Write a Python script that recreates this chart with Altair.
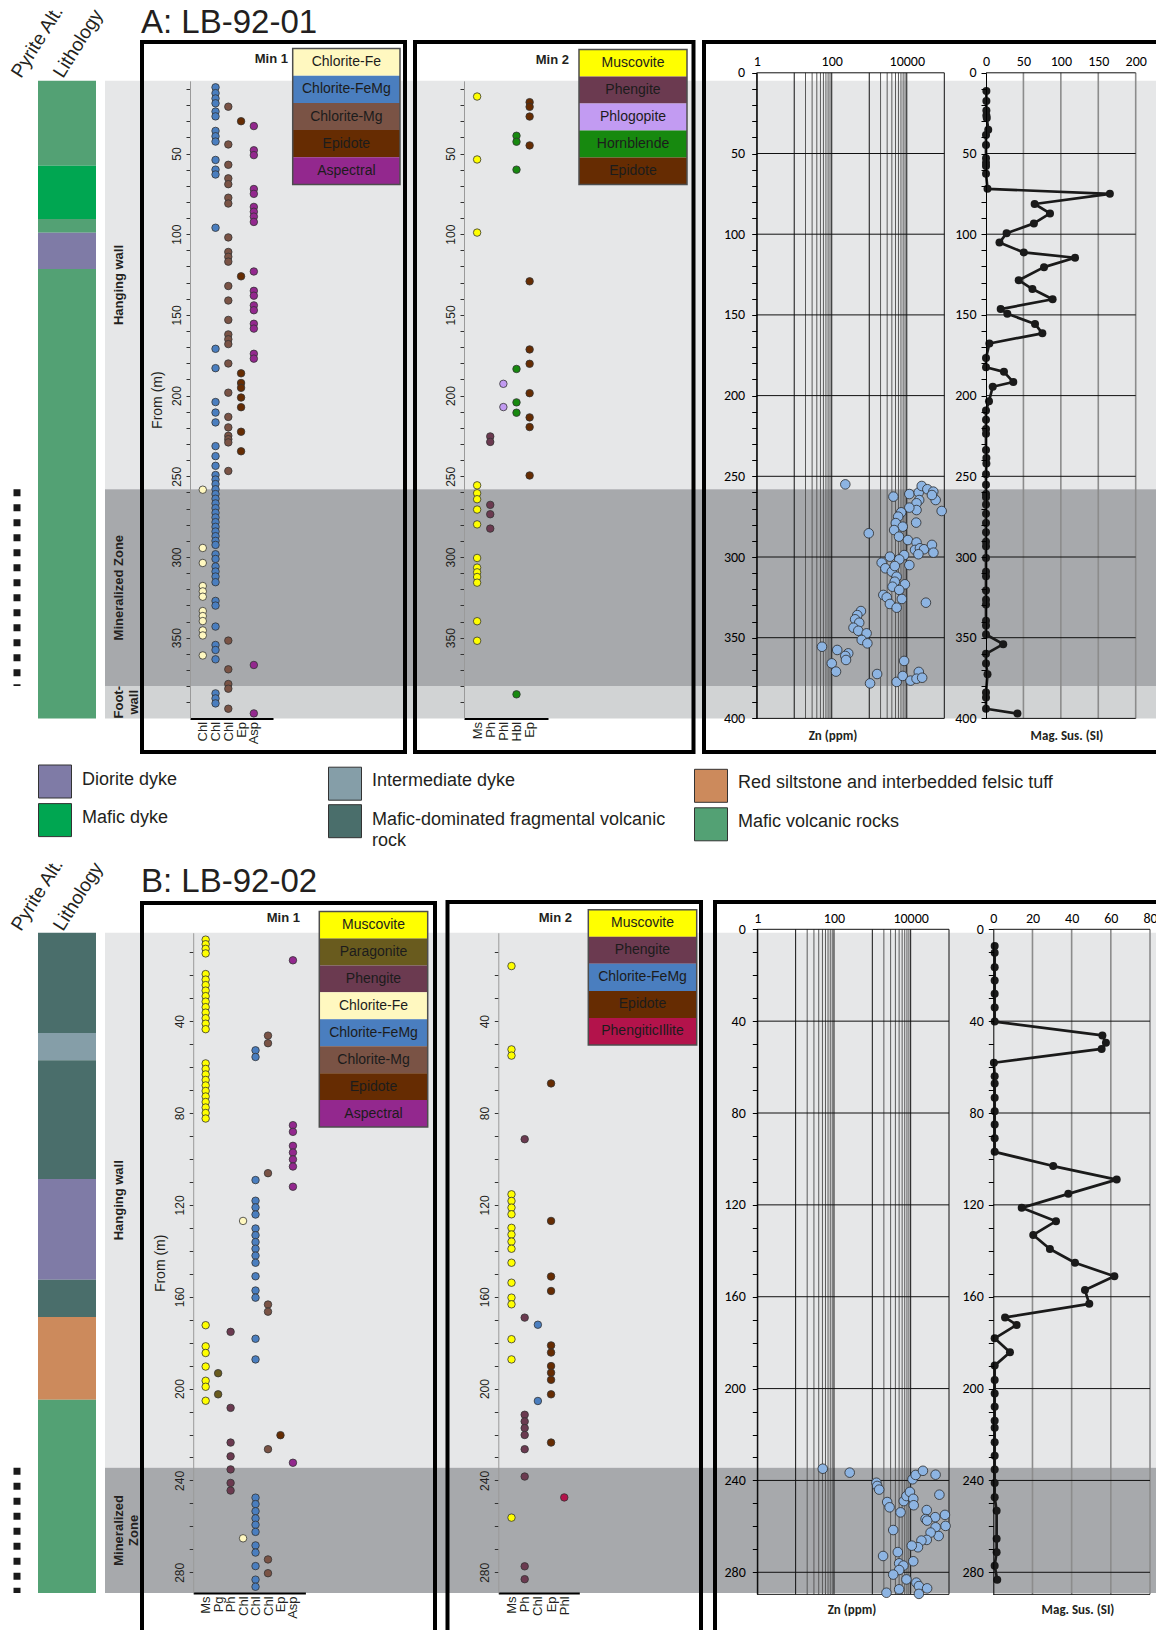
import altair as alt
import pandas as pd

W, H = 1156, 1630
SANS = "Liberation Sans, Arial, Helvetica, sans-serif"
XLS = "Carlito, Lato, Calibri, sans-serif"
INK = "#231f20"

# ------------------------------------------------------------------ colour keys
MINERALS = ["Muscovite", "Paragonite", "Phengite", "Phlogopite", "Hornblende",
            "Chlorite-Fe", "Chlorite-FeMg", "Chlorite-Mg", "Epidote",
            "Aspectral", "PhengiticIllite"]
MINERAL_COLORS = ["#ffff00", "#695b1e", "#6b3a50", "#c29bf2", "#17890f",
                  "#fff8c0", "#4a7ebf", "#7a5345", "#662c02",
                  "#93288e", "#b3134b"]

LITH_UNITS = ["Diorite dyke", "Mafic dyke", "Intermediate dyke",
              "Mafic-dominated fragmental volcanic rock",
              "Red siltstone and interbedded felsic tuff", "Mafic volcanic rocks"]
LITH_COLORS = ["#7f7ba6", "#00a651", "#859ea8", "#4a6e6b", "#cc8a5c", "#53a174"]

ZONE_NAMES = ["Hanging wall", "Mineralized Zone", "Foot-wall"]
ZONE_COLORS = ["#e6e7e8", "#a7a9ac", "#d1d3d4"]

# Excel-style log grid for Zn
ZN_MAJOR = [1, 10, 100, 1000, 10000, 100000]
ZN_MINOR = [20, 30, 40, 50, 60, 70, 80, 90,
            2000, 3000, 4000, 5000, 6000, 7000, 8000, 9000]
ZN_LABELS = [1, 100, 10000]

# ================================================================== hole A: LB-92-01
A_LITH_UNIT = ["Mafic volcanic rocks", "Mafic dyke", "Mafic volcanic rocks",
               "Diorite dyke", "Mafic volcanic rocks"]
A_LITH_TOP = [5, 57.6, 90.6, 99.1, 121.6]
A_LITH_BASE = [57.6, 90.6, 99.1, 121.6, 400]

A_ZONE = ["Hanging wall", "Mineralized Zone", "Foot-wall"]
A_ZONE_LABEL = ["Hanging wall", "Mineralized Zone", "Foot-\nwall"]
A_ZONE_TOP = [5, 258, 380]
A_ZONE_BASE = [258, 380, 400]

A_PYRITE_TOP = [258]
A_PYRITE_BASE = [380]

A_MIN1_COLS = ["Chlorite-Fe", "Chlorite-FeMg", "Chlorite-Mg", "Epidote", "Aspectral"]
A_MIN1_ABBR = ["Chl", "Chl", "Chl", "Ep", "Asp"]
A_MIN1 = {
    "Chlorite-Fe": [258.3, 294.4, 303.7, 318, 321.3, 324.6, 333.5, 336.6, 339.7,
                    345.5, 348.6, 361],
    "Chlorite-FeMg": [9, 12.6, 15.9, 18.9, 24, 27, 36, 39.3, 42.6, 54, 60, 63, 96,
                      171, 183, 204, 210.5, 216.6, 231.3, 237.5, 243.5, 249.2, 252,
                      254.8, 258, 261, 263.9, 266.8, 269.7, 272.6, 275.5, 278.4,
                      281.3, 284.2, 287.1, 290, 292.5, 298.3, 301.2, 305.9, 309,
                      312.1, 315.6, 327.2, 330.1, 343.1, 354.5, 357.6, 363.4,
                      384.5, 387.6, 390.7],
    "Chlorite-Mg": [21, 44.4, 57, 65.4, 69, 77.4, 81, 102, 111, 114, 117, 132.1,
                    141.1, 153.1, 162.1, 165.1, 168.1, 180.1, 198.2, 213.2, 219.7,
                    224.9, 227, 229, 246.7, 351.8, 369.6, 378.7, 381.6, 394],
    "Epidote": [30, 126.1, 186.2, 192.2, 195.2, 201.2, 207.2, 222.4, 234.5],
    "Aspectral": [33, 48, 51, 72, 75, 83.1, 86.1, 89.1, 92.4, 123.1, 135.1, 138.1,
                  144.1, 147.1, 155.5, 158.5, 174.1, 177.1, 366.9, 396.9],
}

A_MIN2_COLS = ["Muscovite", "Phengite", "Phlogopite", "Hornblende", "Epidote"]
A_MIN2_ABBR = ["Ms", "Ph", "Phl", "Hbl", "Ep"]
A_MIN2 = {
    "Muscovite": [14.7, 53.7, 99, 255.6, 260.5, 264.2, 270.6, 279.8, 300.6, 306.6,
                  309.5, 312.4, 315.9, 339.8, 351.9],
    "Phengite": [225.3, 228.7, 267.7, 273.5, 282.4],
    "Phlogopite": [192.7, 207.1],
    "Hornblende": [39, 42.7, 60, 183.5, 204.2, 210.6, 385.1],
    "Epidote": [18.2, 21.1, 27.1, 45, 129.2, 171.4, 180.3, 198.5, 213.5, 219.5, 249.5],
}

A_ZN_DEPTH = [255.0, 262.6, 261.0, 260.0, 256.0, 258.0, 259.5, 264.7, 271.5, 261.6,
              264.7, 266.7, 270.9, 269.4, 272.3, 275.0, 279.0, 281.2, 283.3, 287.4,
              278.7, 285.3, 289.5, 291.0, 295.6, 294.6, 295.2, 298.3, 292.5, 297.3,
              298.8, 301.5, 299.8, 303.5, 307.0, 309.1, 305.6, 305.0, 312.2, 315.3,
              316.9, 318.4, 320.4, 323.5, 325.0, 329.1, 331.4, 326.0, 328.3, 333.5,
              336.0, 338.6, 340.7, 343.8, 345.7, 347.3, 351.4, 353.5, 355.6, 357.6,
              359.7, 361.3, 363.8, 365.9, 371.0, 364.4, 372.5, 378.3, 377.4, 373.7,
              376.6, 371.2, 375.4, 374.8]
A_ZN_PPM = [230, 4400, 11700, 20800, 25000, 35300, 50900, 58900, 85100, 46800,
            21400, 18200, 18200, 11700, 7100, 5900, 5100, 7800, 4600, 6200,
            17800, 970, 10700, 18200, 16600, 22400, 28800, 20400, 46800, 51300,
            8500, 6300, 3550, 2140, 2690, 4000, 4790, 11700, 5370, 4790,
            8900, 4170, 6300, 2370, 2920, 3550, 5370, 7400, 32400, 600,
            480, 420, 540, 380, 510, 850, 630, 890, 55, 140,
            275, 230, 240, 100, 130, 8500, 1620, 1050, 5370, 7800,
            12600, 20900, 18200, 25700]

A_MAG_DEPTH = [11.2, 17.5, 23.3, 26.4, 28, 35.3, 38.5, 44.8, 52.9, 55.8, 57.7, 62.5,
               71.9, 75, 81.3, 87.1, 93.3, 99.4, 105.2, 111.3, 114.6, 120.4, 128.5,
               134, 140.3, 146.4, 149.3, 155.6, 161.4, 167.7, 176.7, 182.4, 185.3,
               191.6, 194.5, 203.5, 209.2, 215, 220.7, 223.6, 233.7, 238.6, 242,
               248.7, 255.3, 261, 263, 267.4, 273.2, 279, 284.7, 290.5, 293.4, 300.6,
               309.2, 312, 320.7, 326.5, 329.4, 339.5, 342.4, 348, 354, 360, 366,
               372.6, 384, 387, 394, 397]
A_MAG_SI = [0.5, 0.5, 0.5, 0.5, 1, 3, 0, 0, 0, 0, 0, 0,
            2, 165.5, 65, 85.5, 64, 27.5, 18, 50.5, 119, 77.5, 43.7,
            62, 89, 19.6, 28.5, 65.5, 75.3, 4.5, 0, 0, 24,
            36.5, 9, 4, 0, 0, 0, 0, 0, 0.5, 0.5,
            0, 0, 0, 0, 0, 0, 0, 0, 0, 0, 0,
            0, 0, 0, 0, 0, 0, 0, 0, 23, 0, 0,
            2, 0, 0, 0, 42]

# ================================================================== hole B: LB-92-02
B_LITH_UNIT = ["Mafic-dominated fragmental volcanic rock", "Intermediate dyke",
               "Mafic-dominated fragmental volcanic rock", "Diorite dyke",
               "Mafic-dominated fragmental volcanic rock",
               "Red siltstone and interbedded felsic tuff", "Mafic volcanic rocks"]
B_LITH_TOP = [1.5, 45.2, 57.0, 108.7, 152.6, 168.8, 204.9]
B_LITH_BASE = [45.2, 57.0, 108.7, 152.6, 168.8, 204.9, 289]

B_ZONE = ["Hanging wall", "Mineralized Zone"]
B_ZONE_LABEL = ["Hanging wall", "Mineralized\nZone"]
B_ZONE_TOP = [1.5, 234.5]
B_ZONE_BASE = [234.5, 289]

B_PYRITE_TOP = [234.5]
B_PYRITE_BASE = [289]

B_MIN1_COLS = ["Muscovite", "Paragonite", "Phengite", "Chlorite-Fe", "Chlorite-FeMg",
               "Chlorite-Mg", "Epidote", "Aspectral"]
B_MIN1_ABBR = ["Ms", "Pg", "Ph", "Chl", "Chl", "Chl", "Ep", "Asp"]
B_MIN1 = {
    "Muscovite": [4.5, 6.5, 8.5, 10.5, 19.5, 21.9, 24.3, 26.7, 29.1, 31.5, 33.9, 36.3,
                  38.7, 41.1, 43.5, 58.4, 60.8, 63.2, 65.6, 68.0, 70.4, 72.8, 75.2,
                  77.6, 80.0, 82.4, 172.4, 181.6, 184.5, 190.4, 196.6, 199.2, 205.3],
    "Paragonite": [193.3, 202.5],
    "Phengite": [175.3, 208.4, 223.5, 229.5, 235.2, 241.1, 244.4],
    "Chlorite-Fe": [127, 265.2],
    "Chlorite-FeMg": [52.7, 55.6, 109.2, 118.2, 121.1, 124.2, 130.3, 133.2, 136.2,
                      139.1, 142.1, 145.2, 151.1, 157.3, 160.4, 178.3, 187.3, 247.5,
                      250.3, 253.4, 256.5, 259.3, 262.4, 268.3, 271.4, 277.3, 283.2,
                      286.3],
    "Chlorite-Mg": [46.3, 49.6, 106.2, 163.4, 166.5, 226.4, 274.4, 280.4],
    "Epidote": [220.3],
    "Aspectral": [13.5, 85.3, 88.2, 94.3, 97.2, 100.2, 103.3, 112.1, 232.3],
}

B_MIN2_COLS = ["Muscovite", "Phengite", "Chlorite-FeMg", "Epidote", "PhengiticIllite"]
B_MIN2_ABBR = ["Ms", "Ph", "Chl", "Ep", "Phl"]
B_MIN2 = {
    "Muscovite": [16, 52.3, 55, 115.4, 118.3, 121.2, 124.1, 130, 132.9, 136, 139.1,
                  145.2, 153.9, 160.4, 163.3, 178.5, 187.3, 256.2],
    "Phengite": [91.4, 169.1, 211.4, 214.3, 217.2, 220.2, 226.4, 238.3, 277.4, 283],
    "Chlorite-FeMg": [172.2, 205.4],
    "Epidote": [67.1, 127, 151.2, 157.5, 181.2, 184.3, 190.2, 193.1, 196.2, 202.5,
                223.5],
    "PhengiticIllite": [247.4],
}

B_ZN_DEPTH = [234.9, 236.6, 241.0, 242.4, 244.0, 249.4, 251.7, 253.9, 249.0, 246.8,
              245.0, 248.0, 250.8, 239.5, 237.6, 235.8, 237.5, 246.2, 252.9, 256.8,
              256.0, 255.0, 259.8, 260.4, 257.5, 264.2, 262.7, 265.9, 266.2, 269.1,
              268.4, 261.6, 272.9, 271.2, 275.2, 276.1, 277.1, 279.0, 281.0, 283.1,
              284.5, 286.0, 287.0, 287.4, 288.9, 289.4]
B_ZN_PPM = [51, 257, 1280, 1340, 1510, 2440, 2820, 5440, 6600, 7760,
            9550, 11700, 12000, 11200, 13500, 20900, 44700, 56200, 26300, 24500,
            43700, 78500, 81300, 44700, 26900, 53700, 33100, 26300, 19100, 15500,
            10700, 3510, 1910, 4620, 11700, 5010, 6460, 5010, 3510, 7760,
            14100, 16400, 26900, 5010, 2340, 16400]

B_MAG_DEPTH = [7.3, 10.2, 16.5, 22.3, 28.1, 34, 40.2, 46.2, 49.4, 52.1, 58.1, 64,
               67.1, 73.3, 79.2, 85, 91, 96.9, 103.1, 109, 115.2, 121.3, 127.1,
               133.1, 139.2, 145.2, 151.1, 157.1, 163.1, 169, 172.3, 178.1, 184.2,
               190, 196.3, 202.1, 207.9, 214, 217.1, 223.4, 229.2, 235.2, 241.1,
               247.3, 253.2, 265.4, 271.3, 277.1, 283.2]
B_MAG_SI = [0.7, 0.7, 0.7, 0.7, 0.7, 0.7, 0.7, 55.7, 57.5, 55.3, 0.3, 0.7,
            0.7, 0.7, 0.7, 0.7, 0.7, 0.7, 30.6, 63, 38.3, 14.5, 32,
            20.4, 28.9, 41.7, 61.8, 46.8, 49, 6, 11.9, 0.7, 8.5,
            0.7, 0.7, 0.7, 0.7, 0.7, 0.7, 0.7, 0.7, 0.7, 0.7,
            0.7, 1.7, 1.7, 1.7, 0.7, 2]

ONE = pd.DataFrame({"k": [0]})
MINERAL_SCALE = alt.Scale(domain=MINERALS, range=MINERAL_COLORS)
LITH_SCALE = alt.Scale(domain=LITH_UNITS, range=LITH_COLORS)
ZONE_SCALE = alt.Scale(domain=ZONE_NAMES, range=ZONE_COLORS)


def dscale(dom, rng):
    return alt.Scale(domain=dom, range=rng, zero=False, nice=False)


def text_at(txt, x, y, size, weight="normal", align="center", baseline="middle",
            font=SANS, angle=0, color=INK, line_height=None):
    kw = dict(text=txt, fontSize=size, fontWeight=weight, align=align,
              baseline=baseline, font=font, angle=angle, color=color)
    if line_height:
        kw.update(lineBreak="\n", lineHeight=line_height)
    return alt.Chart(ONE).mark_text(**kw).encode(x=alt.value(x), y=alt.value(y))


def frame(x0, y0, x1, y1, width=4, color="black"):
    return alt.Chart(ONE).mark_rect(fill="transparent", stroke=color,
                                    strokeWidth=width).encode(
        x=alt.value(x0), x2=alt.value(x1), y=alt.value(y0), y2=alt.value(y1))


def swatch(color, x0, y0, size=33):
    return alt.Chart(ONE).mark_rect(fill=color, stroke="#333333", strokeWidth=1).encode(
        x=alt.value(x0), x2=alt.value(x0 + size), y=alt.value(y0), y2=alt.value(y0 + size))


def left_column(units, tops, bases, zones, zone_labels, ztops, zbases,
                ptops, pbases, ys):
    lith = pd.DataFrame({"unit": units, "top": tops, "base": bases})
    zdf = pd.DataFrame({"zone": zones, "label": zone_labels, "top": ztops, "base": zbases})
    pdf = pd.DataFrame({"top": ptops, "base": pbases})
    bands = alt.Chart(zdf).mark_rect().encode(
        x=alt.value(105), x2=alt.value(W),
        y=alt.Y("top:Q", scale=ys, axis=None), y2="base:Q",
        fill=alt.Fill("zone:N", scale=ZONE_SCALE, legend=None))
    column = alt.Chart(lith).mark_rect().encode(
        x=alt.value(38), x2=alt.value(96),
        y=alt.Y("top:Q", scale=ys, axis=None), y2="base:Q",
        fill=alt.Fill("unit:N", scale=LITH_SCALE, legend=None))
    pyrite = alt.Chart(pdf).mark_rule(color="#1a1a1a", strokeWidth=7,
                                      strokeDash=[7, 8], strokeCap="butt").encode(
        x=alt.value(17), y=alt.Y("top:Q", scale=ys, axis=None), y2="base:Q")
    labels = alt.Chart(zdf).transform_calculate(
        mid="(datum.top + datum.base) / 2").mark_text(
        angle=270, font=SANS, fontSize=13, fontWeight="bold", color=INK,
        lineBreak="\n", lineHeight=15, align="center", baseline="middle").encode(
        x=alt.value(119), y=alt.Y("mid:Q", scale=ys, axis=None), text="label:N")
    return [bands, column, pyrite, labels]


def min_panel(data, cols, abbr, ys, ticks, step, axis_x, x_dom, x_rng, base_y, title):
    rows = [(m, d, i) for i, m in enumerate(cols) for d in data[m]]
    df = pd.DataFrame(rows, columns=["mineral", "depth", "col"])
    abbr_js = "[" + ",".join("'%s'" % a for a in abbr) + "]"
    x_axis = alt.Axis(orient="bottom", offset=base_y - H, values=list(range(len(cols))),
                      labelExpr=abbr_js + "[datum.value]", labelAngle=270,
                      labelAlign="right", labelBaseline="middle", labelFont=SANS,
                      labelFontSize=13, labelColor=INK, labelPadding=3, ticks=False,
                      domainColor="black", domainWidth=2, grid=False, title=None,
                      labelOverlap=False, labelFlush=False, zindex=2)
    ykw = dict(orient="left", offset=-axis_x, values=ticks,
               labelExpr="datum.value %% %d === 0 ? datum.label : ''" % step,
               labelAngle=270, labelAlign="center", labelBaseline="bottom",
               labelFont=SANS, labelFontSize=12, labelColor=INK, labelPadding=3,
               tickSize=4, tickColor="#333333", domainColor="#9a9a9a", domainWidth=1,
               grid=False, labelOverlap=False, labelFlush=False, zindex=2)
    if title:
        ykw.update(title=title, titleFont=SANS, titleFontSize=14,
                   titleFontWeight="normal", titleColor=INK, titlePadding=6)
    else:
        ykw.update(title=None)
    return alt.Chart(df).mark_circle(size=56, stroke="#333333", strokeWidth=0.8,
                                     opacity=1).encode(
        x=alt.X("col:Q", scale=dscale(x_dom, x_rng), axis=x_axis),
        y=alt.Y("depth:Q", scale=ys, axis=alt.Axis(**ykw)),
        fill=alt.Fill("mineral:N", scale=MINERAL_SCALE, legend=None))


def mineral_legend(items, x0, x1, y0, y1):
    df = pd.DataFrame({"name": items})
    ys = alt.Scale(type="band", domain=items, range=[y0, y1], paddingInner=0,
                   paddingOuter=0)
    boxes = alt.Chart(df).mark_rect().encode(
        x=alt.value(x0), x2=alt.value(x1),
        y=alt.Y("name:N", scale=ys, axis=None),
        fill=alt.Fill("name:N", scale=MINERAL_SCALE, legend=None))
    names = alt.Chart(df).mark_text(font=SANS, fontSize=14, color="#1c1c1c").encode(
        x=alt.value((x0 + x1) / 2), y=alt.Y("name:N", scale=ys, axis=None),
        text="name:N")
    return [boxes, names, frame(x0, y0, x1, y1, width=1.5, color="#4d4d4d")]


def depth_axis_xls(axis_x, ticks, step, pad):
    return alt.Axis(orient="left", offset=-axis_x, values=ticks,
                    labelExpr="datum.value %% %d === 0 ? datum.label : ''" % step,
                    tickSize=5, tickColor="black", domainColor="black", domainWidth=1,
                    grid=False, labelFont=XLS, labelFontSize=14, labelColor="black",
                    labelPadding=pad, title=None, labelOverlap=False, labelFlush=False,
                    zindex=2)


def top_axis_xls(y0, values, fmt=None):
    kw = dict(orient="top", offset=-y0, values=values, ticks=False, domain=False,
              grid=False, labelFont=XLS, labelFontSize=14, labelColor="black",
              labelPadding=4, labelFlush=False, labelOverlap=False, title=None,
              zindex=2)
    if fmt:
        kw.update(format=fmt)
    return alt.Axis(**kw)


def zn_panel(depths, ppm, ys, y_dom, x_rng, hgrid, ticks, step, axis_x, y0):
    xs = alt.Scale(type="log", domain=[1, 100000], range=x_rng, nice=False)
    minor = alt.Chart(pd.DataFrame({"v": ZN_MINOR})).mark_rule(
        color="#5a5a5a", strokeWidth=1).encode(
        x=alt.X("v:Q", scale=xs, axis=None),
        y=alt.YDatum(y_dom[0], scale=ys, axis=None), y2=alt.Y2Datum(y_dom[1]))
    major = alt.Chart(pd.DataFrame({"v": ZN_MAJOR})).mark_rule(
        color="#111111", strokeWidth=1).encode(
        x=alt.X("v:Q", scale=xs, axis=None),
        y=alt.YDatum(y_dom[0], scale=ys, axis=None), y2=alt.Y2Datum(y_dom[1]))
    hg = alt.Chart(pd.DataFrame({"d": hgrid})).mark_rule(
        color="#111111", strokeWidth=1).encode(
        y=alt.Y("d:Q", scale=ys, axis=None),
        x=alt.XDatum(1, scale=xs, axis=None), x2=alt.X2Datum(100000))
    df = pd.DataFrame({"depth": depths, "ppm": ppm})
    pts = alt.Chart(df).mark_circle(size=92, fill="#8db4e2", stroke="#2b2b2b",
                                    strokeWidth=0.8, opacity=1).encode(
        x=alt.X("ppm:Q", scale=xs, axis=top_axis_xls(y0, ZN_LABELS, "d")),
        y=alt.Y("depth:Q", scale=ys, axis=depth_axis_xls(axis_x, ticks, step, 7)))
    return [minor, major, hg, pts]


def mag_panel(depths, si, ys, y_dom, x_dom, x_rng, vgrid, hgrid, ticks, step,
              axis_x, y0, labels):
    xs = dscale(x_dom, x_rng)
    vg = alt.Chart(pd.DataFrame({"v": vgrid})).mark_rule(
        color="#8c8c8c", strokeWidth=1.6).encode(
        x=alt.X("v:Q", scale=xs, axis=None),
        y=alt.YDatum(y_dom[0], scale=ys, axis=None), y2=alt.Y2Datum(y_dom[1]))
    hg = alt.Chart(pd.DataFrame({"d": hgrid})).mark_rule(
        color="#111111", strokeWidth=1).encode(
        y=alt.Y("d:Q", scale=ys, axis=None),
        x=alt.XDatum(x_dom[0], scale=xs, axis=None), x2=alt.X2Datum(x_dom[1]))
    df = pd.DataFrame({"depth": depths, "si": si})
    line = alt.Chart(df).mark_line(color="#1a1a1a", strokeWidth=2.7,
                                   strokeJoin="round").encode(
        x=alt.X("si:Q", scale=xs, axis=None),
        y=alt.Y("depth:Q", scale=ys, axis=None), order="depth:Q")
    pts = alt.Chart(df).mark_circle(size=64, color="#1a1a1a", opacity=1).encode(
        x=alt.X("si:Q", scale=xs, axis=top_axis_xls(y0, labels)),
        y=alt.Y("depth:Q", scale=ys, axis=depth_axis_xls(axis_x, ticks, step, 5)))
    return [vg, hg, line, pts]


L = []

# ------------------------------------------------------------------ hole A
A0, A_PX = 72.8, 1.614          # depth 0 at y=72.8 px, 1.614 px per metre
A_Y_FULL = dscale([0, 400], [A0, A0 + 400 * A_PX])
A_Y_MIN = dscale([5, 400], [A0 + 5 * A_PX, A0 + 400 * A_PX])

L += left_column(A_LITH_UNIT, A_LITH_TOP, A_LITH_BASE, A_ZONE, A_ZONE_LABEL,
                 A_ZONE_TOP, A_ZONE_BASE, A_PYRITE_TOP, A_PYRITE_BASE, A_Y_FULL)
L += [frame(142, 42, 405, 752), frame(415, 42, 693.5, 752), frame(704, 42, 1162, 752)]

L.append(min_panel(A_MIN1, A_MIN1_COLS, A_MIN1_ABBR, A_Y_MIN, list(range(10, 400, 10)),
                   50, 190, [-1, 5.5], [190, 273], A0 + 400 * A_PX, "From (m)"))
L.append(min_panel(A_MIN2, A_MIN2_COLS, A_MIN2_ABBR, A_Y_MIN, list(range(10, 400, 10)),
                   50, 464, [-1, 5.4], [464, 548], A0 + 400 * A_PX, None))
L += mineral_legend(A_MIN1_COLS, 292.7, 400, 48.5, 184.5)
L += mineral_legend(A_MIN2_COLS, 579, 687, 49.5, 184.6)

L += zn_panel(A_ZN_DEPTH, A_ZN_PPM, A_Y_FULL, [0, 400], [756.7, 944.3],
              list(range(0, 401, 50)), list(range(0, 401, 10)), 50, 756.7, A0)
L += mag_panel(A_MAG_DEPTH, A_MAG_SI, A_Y_FULL, [0, 400], [0, 200], [986, 1135.7],
               [50, 100, 150, 200], list(range(0, 401, 50)), list(range(0, 401, 10)),
               50, 986, A0, [0, 50, 100, 150, 200])

L += [text_at("A: LB-92-01", 141, 33, 33, align="left", baseline="alphabetic"),
      text_at("Pyrite Alt.", 21, 79, 19, align="left", baseline="alphabetic", angle=302),
      text_at("Lithology", 63, 79, 19, align="left", baseline="alphabetic", angle=302),
      text_at("Min 1", 288, 59, 13, weight="bold", align="right"),
      text_at("Min 2", 569, 60, 13, weight="bold", align="right"),
      text_at("Zn (ppm)", 833, 736, 13, weight="bold", font=XLS),
      text_at("Mag. Sus. (SI)", 1067, 736, 13, weight="bold", font=XLS)]

# ------------------------------------------------------------------ rock legend
L += [swatch(LITH_COLORS[0], 38.5, 765), swatch(LITH_COLORS[1], 38.5, 803.6),
      swatch(LITH_COLORS[2], 328.5, 767.2), swatch(LITH_COLORS[3], 328.5, 804.7),
      swatch(LITH_COLORS[4], 694.5, 769.3), swatch(LITH_COLORS[5], 694.5, 807.8)]
L += [text_at("Diorite dyke", 82, 780, 18, align="left"),
      text_at("Mafic dyke", 82, 818, 18, align="left"),
      text_at("Intermediate dyke", 372, 781, 18, align="left"),
      text_at("Mafic-dominated fragmental volcanic\nrock", 372, 819.5, 18,
              align="left", line_height=21),
      text_at("Red siltstone and interbedded felsic tuff", 738, 783, 18, align="left"),
      text_at("Mafic volcanic rocks", 738, 822, 18, align="left")]

# ------------------------------------------------------------------ hole B
B0, B_PX = 929.3, 2.2964
B_Y_FULL = dscale([0, 289.6], [B0, B0 + 289.6 * B_PX])
B_Y_MIN = dscale([1.5, 289], [B0 + 1.5 * B_PX, B0 + 289 * B_PX])

L += left_column(B_LITH_UNIT, B_LITH_TOP, B_LITH_BASE, B_ZONE, B_ZONE_LABEL,
                 B_ZONE_TOP, B_ZONE_BASE, B_PYRITE_TOP, B_PYRITE_BASE, B_Y_FULL)
L += [frame(142, 903, 435, 1645), frame(447.5, 902, 701, 1645), frame(715, 902, 1162, 1645)]

L.append(min_panel(B_MIN1, B_MIN1_COLS, B_MIN1_ABBR, B_Y_MIN, list(range(10, 281, 10)),
                   40, 193.2, [-1, 8], [193.2, 305.4], B0 + 289 * B_PX, "From (m)"))
L.append(min_panel(B_MIN2, B_MIN2_COLS, B_MIN2_ABBR, B_Y_MIN, list(range(10, 281, 10)),
                   40, 498.3, [-1, 5.14], [498.3, 579.3], B0 + 289 * B_PX, None))
L += mineral_legend(B_MIN1_COLS, 319.3, 427.7, 911.5, 1127)
L += mineral_legend(B_MIN2_COLS, 588.3, 696.7, 909.7, 1045)

B_HGRID = [0, 40, 80, 120, 160, 200, 240, 280, 289.6]
L += zn_panel(B_ZN_DEPTH, B_ZN_PPM, B_Y_FULL, [0, 289.6], [757.3, 949],
              B_HGRID, list(range(0, 281, 10)), 40, 757.3, B0)
L += mag_panel(B_MAG_DEPTH, B_MAG_SI, B_Y_FULL, [0, 289.6], [0, 80], [993.3, 1150],
               [20, 40, 60, 80], B_HGRID, list(range(0, 281, 10)), 40, 993.3, B0,
               [0, 20, 40, 60, 80])

L += [text_at("B: LB-92-02", 141, 892, 33, align="left", baseline="alphabetic"),
      text_at("Pyrite Alt.", 21, 932, 19, align="left", baseline="alphabetic", angle=302),
      text_at("Lithology", 63, 932, 19, align="left", baseline="alphabetic", angle=302),
      text_at("Min 1", 300, 918, 13, weight="bold", align="right"),
      text_at("Min 2", 572, 918, 13, weight="bold", align="right"),
      text_at("Zn (ppm)", 852, 1610, 13, weight="bold", font=XLS),
      text_at("Mag. Sus. (SI)", 1078, 1610, 13, weight="bold", font=XLS)]

chart = alt.layer(*L).resolve_scale(
    x="independent", y="independent", fill="independent", color="independent"
).properties(
    width=W, height=H, padding=0, background="white",
    autosize=alt.AutoSizeParams(type="none")
).configure_view(stroke=None)

chart.save("out.html", embed_options={"renderer": "svg", "actions": False})
